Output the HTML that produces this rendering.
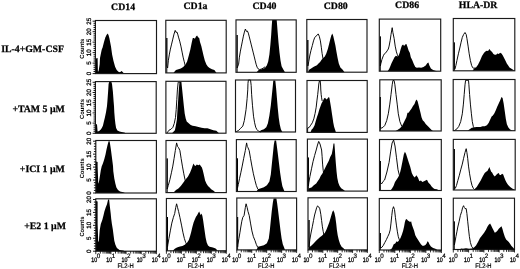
<!DOCTYPE html>
<html><head><meta charset="utf-8"><title>Flow cytometry histograms</title><style>
html,body{margin:0;padding:0;background:#fff;}
svg{display:block;filter:blur(0.3px);}
text{fill:#000;text-rendering:geometricPrecision;}
.hd,.rl{font-family:"Liberation Serif","Times New Roman",serif;font-weight:bold;font-size:9.8px;stroke:#000;stroke-width:0.25px;}
.yl{font-family:"Liberation Sans",Arial,sans-serif;font-size:6.3px;text-anchor:middle;stroke:#000;stroke-width:0.25px;}
.cnt{font-family:"Liberation Sans",Arial,sans-serif;font-size:6px;font-weight:bold;text-anchor:middle;}
.xl{font-family:"Liberation Sans",Arial,sans-serif;font-size:6.6px;stroke:#000;stroke-width:0.3px;}
.xs{font-family:"Liberation Sans",Arial,sans-serif;font-size:6.3px;stroke:#000;stroke-width:0.2px;}
.fl{font-family:"Liberation Sans",Arial,sans-serif;font-size:6.7px;stroke:#000;stroke-width:0.2px;}
</style></head>
<body><svg width="520" height="269" viewBox="0 0 520 269">
<rect width="520" height="269" fill="#fff"/>
<polygon fill="#000" points="96,73.6 96,73.6 96,58.5 97.6,58 97.9,71.6 98.3,71.6 98.8,69.9 99.7,64 100,58 100.8,53.9 101.7,49.7 102.6,47.4 104,42 105.3,37.4 106.5,35 107.7,33.6 108.5,35 109.4,38.2 111,46.4 112.1,54.5 113.5,61.1 115.1,66.8 116.7,70.1 118.4,71.7 120,72.2 121.6,70.9 122.9,72.2 124,73.6 124,73.6"/>
<polygon fill="#000" points="173.5,72.9 173.5,72.9 175,71 176,70 178.4,69.2 180.8,68.4 183.2,67.1 185.6,64.4 187.2,61.2 188.8,55.6 190.4,49.2 191.7,42.8 192.8,38 193.9,38 194.9,38.8 196,36.4 197.1,35.6 198.1,37.2 199.2,38 200,42 201.3,46 202.4,50.8 203.5,55.6 204.8,60.4 206.4,64.4 208,66.8 209.6,68 212,69.2 214.4,70 216.5,72.9 216.5,72.9"/>
<polyline fill="none" stroke="#000" stroke-width="0.95" stroke-linejoin="round" points="166.8,72.9 166.8,38 166.8,66 167.6,68 168.4,60.2 169.4,54.1 170.4,49.1 171.6,44.1 172.8,39.1 174,34.1 175.2,30.4 176,32.4 176.9,32 177.7,34.1 178.5,37.1 179.7,41.1 180.9,46.1 182.1,52.1 183.1,57.1 184.1,61.2 185.1,65.2 186.1,69.2 187.5,72"/>
<polygon fill="#000" points="256.5,72.3 256.5,72.3 259,69.8 261.9,69.2 264.9,67.9 266.9,65.3 268.2,61.4 269.4,54.5 270.4,44.6 271.2,34.8 271.8,24.9 272.2,20 276.7,20 277.1,24.9 277.7,32.8 278.5,42.6 279.5,52.5 280.5,60.4 281.6,66.3 283.2,69.2 285,72.3 285,72.3"/>
<polyline fill="none" stroke="#000" stroke-width="0.95" stroke-linejoin="round" points="237.1,72.3 237.1,35 237.1,68 238.6,64.2 239.4,57.2 240.4,51.1 241.4,46.1 242.4,41.1 243.4,36.1 244.4,32.1 245.4,29 246.4,31.4 247.4,31 248.3,33.1 249.1,36.1 250.1,40.1 251.1,44.1 252.1,48.1 253.1,52.1 254.1,56.1 255.1,60.2 256.1,64.2 257.1,67.2 258.1,68.8 259.5,69.6 261.1,69.2 263.1,68.2 265.1,66.8"/>
<polygon fill="#000" points="308,72.2 308,72.2 309.1,69.8 311.5,68.3 313.8,66.7 315.4,65.9 316.9,65.2 318.5,63.6 320.1,62 321.6,59.7 323.2,58.1 324.8,56.6 326.3,53.4 327.9,48.8 329.1,44.1 330.2,39.4 331.3,35.5 332.3,33.4 333.3,36.3 334.4,40.9 335.4,45.6 336.5,51.9 337.6,58.1 338.8,63.6 340.4,67.5 342.7,69.8 344.5,72.2 344.5,72.2"/>
<polyline fill="none" stroke="#000" stroke-width="0.95" stroke-linejoin="round" points="307.8,72.2 307.8,40 307.8,66 308.3,64 308.8,61.3 309.9,55 311,50.3 312.3,45.6 313.5,40.9 314.6,37.8 315.7,36.3 316.9,35.5 318.2,33.9 319.3,36.3 320.4,40.9 321.3,47.2 322.1,53.4 322.9,58.1 324,61.3 325,63"/>
<polygon fill="#000" points="387.5,71.2 387.5,71.2 389,69.2 390,66.9 391.5,63.2 393,60.3 394.5,57.3 395.9,55.8 397.4,56.5 398.6,55.8 399.7,52.8 400.7,49.1 401.9,45.4 403.1,44.6 404.1,46.1 405.2,44.6 406.4,43.9 407.5,46.9 408.6,50.6 409.8,52.8 410.8,57.3 412.3,60.3 413.8,64 415.3,66.9 416.8,67.7 419,67.4 421.2,67.7 423.5,66.9 425.7,65.5 427.2,63.2 428.4,62.5 429.4,65.5 430.9,68.4 433.1,69.9 436.1,71 438,71.2 438,71.2"/>
<polyline fill="none" stroke="#000" stroke-width="0.95" stroke-linejoin="round" points="380.3,71.2 380.3,36.5 380.3,66 380.9,63.5 381.9,59.6 383.3,55.8 384.4,53.8 385.8,52.8 387.1,50.9 388.3,49 389.1,46.1 390.2,40.3 391,34.5 392.2,27.7 392.9,32.5 394.1,38.3 395.2,46.1 396.4,51.9 397.4,54.8 398.3,56.7 399.5,58"/>
<polygon fill="#000" points="472.5,70.8 472.5,70.8 474,68.8 476,67.5 478,64.8 480,60.8 482,56.1 484.1,52.7 485.4,51.4 486.7,50.7 488.1,51 489.4,49.1 490.7,50.7 492.1,52.1 493.4,54.1 494.8,54.7 496.1,54.7 497.4,53.4 498.8,54.1 500.1,52.7 501.5,53.4 502.8,55.4 504.1,58.1 505.5,60.8 506.8,63.4 508.2,65.5 509.5,67.5 511.5,68.8 513.5,70.1 514.5,70.8 514.5,70.8"/>
<polyline fill="none" stroke="#000" stroke-width="0.95" stroke-linejoin="round" points="454.3,70.8 454.3,42.5 454.3,69 454.9,69.3 455.9,65.4 456.9,60.6 458.4,53.8 459.8,48 461.1,42.2 462.3,37.4 463.6,34.5 465,32.5 466.2,34.5 466.9,38.3 468.1,46.1 469.2,53.8 470.4,60.6 471.6,65.4 472.7,67.7 473.9,68.3 475.5,67.8"/>
<polygon fill="#000" points="96,133.3 96,133.3 96,124 97,124.5 97.6,131.5 99.2,131 100.8,129.4 101.8,127.9 102.9,125.8 103.9,121.6 104.9,117.5 106,112.3 107,106 107.4,101.3 108.1,91.7 108.6,84 109.3,81.6 111.3,81.6 112,84 112.9,91.7 113.6,101.3 114,106 114.3,112.3 114.8,118.5 115.4,123.7 116.1,127.9 117.4,130.5 119.5,131.5 121.6,132 124.2,132.6 126,133.3 126,133.3"/>
<polygon fill="#000" points="172,133.2 172,133.2 174.9,130.2 175.9,125.3 176.9,119.4 177.5,109.6 178.2,99.7 178.8,89.9 179.4,83 179.8,81.8 181.4,81.8 181.8,85.9 182.8,95.8 183.8,105.6 184.7,113.5 185.7,118.4 186.7,121.4 188.7,123.3 190.7,124.9 192.6,125.7 195.6,126.3 198.5,126.9 201.5,127.7 204.5,128.3 207.4,128.3 210.4,129.3 213.3,130.2 216.3,130.8 219,133.2 219,133.2"/>
<polyline fill="none" stroke="#000" stroke-width="0.95" stroke-linejoin="round" points="166.8,133.2 169,130.2 170.9,129.3 172.9,127.3 174.3,123.3 175.5,117.4 176.2,109.6 176.8,99.7 177.4,89.9 178.2,82.2 179,81.8 180,82.5"/>
<polygon fill="#000" points="259,132 259,132 261,130.2 263.9,129.3 266.3,127.3 267.9,123.3 269.4,115.5 270.8,105.6 271.8,95.8 272.8,85.9 273.3,80.5 275.3,80.5 276.1,87.9 276.9,97.7 277.7,107.6 278.7,117.4 279.7,124.3 280.9,129.3 282.3,132 282.3,132"/>
<polyline fill="none" stroke="#000" stroke-width="0.95" stroke-linejoin="round" points="236.5,132 236.4,131.56 238.54,130.46 240.68,128.27 242.82,126.08 244.32,120.59 246.04,109.62 247.11,98.65 247.75,89.87 247.97,83.29 248.39,80 250.54,80 251.18,85.49 251.61,94.26 252.46,105.23 253.53,116.2 254.61,122.78 255.68,127.17 256.75,129.37 258.46,131.12 261.03,132"/>
<polygon fill="#000" points="310.5,132.4 310.5,132.4 311.5,129.8 313,128.3 314.6,125.2 315.7,121.3 316.9,117.3 318.2,113.4 319.3,109.5 320.4,106.4 321.6,103.3 322.9,100.9 324,98.6 325.1,97.8 326.3,99.4 327.6,98.6 328.7,97 329.4,97.8 330.2,102.5 331,107.2 331.8,112.7 332.6,118.1 333.3,122.8 334.1,126.7 335.1,129.8 336,132.4 336,132.4"/>
<polyline fill="none" stroke="#000" stroke-width="0.95" stroke-linejoin="round" points="307.6,132.4 307.6,128 309.1,127.5 310.7,125.2 312.3,122.8 313.8,118.9 315.1,113.4 316.2,107.2 316.9,100.9 317.7,94.7 318.2,90 318.8,84 319.4,81 320.2,81 320.6,85 320.8,90 321.2,94.7 321.6,97.8 322.2,101"/>
<polygon fill="#000" points="395.5,131 395.5,131 397.4,129.9 399.7,128.4 401.9,126.2 403.4,123.2 404.9,120.3 406.4,117.3 407.5,112.8 408.6,112.8 410.1,110.6 411.6,108.4 413,106.1 414.5,103.9 415.6,100.9 416.5,99.4 417.5,100.9 418.3,103.9 419.4,108.4 420.5,112.8 421.5,117.3 422.7,120.3 424.2,121.7 425.7,124 427.2,125.5 428.7,126.9 430.1,128.4 431.6,129.9 433,131 433,131"/>
<polyline fill="none" stroke="#000" stroke-width="0.95" stroke-linejoin="round" points="380.3,131 380.3,97 380.3,128 380.9,128.3 382.9,127.4 384.8,125.4 386.7,120.6 388.3,113.8 389.8,104.1 391,94.5 392.2,84.8 392.9,80.5 394.1,80.5 394.9,84.8 396,94.5 397.2,104.1 398.3,113.8 399.9,121.6 401.8,126.4 404.1,128.3 406,129.5"/>
<polygon fill="#000" points="467.52,130.7 467.52,130.7 469.67,129.17 471.82,127.87 473.97,127.43 476.12,127 478.28,127 480.43,127 482.58,126.34 484.73,126.34 486.88,125.25 488.6,123.07 490.11,119.81 491.61,116.54 492.9,115.45 494.41,113.27 495.91,110 497.2,106.73 498.71,103.47 500.22,100.2 501.51,96.93 502.58,98.02 503.66,103.47 504.73,111.09 505.81,118.72 506.88,124.16 508.39,127.43 510.11,129.61 512.69,130.7 512.69,130.7"/>
<polyline fill="none" stroke="#000" stroke-width="0.95" stroke-linejoin="round" points="454.3,130.7 456.9,128.9 458.8,126.4 460.7,121.6 462.3,113.8 463.4,104.1 464.2,94.5 465,84.8 465.6,80.3 468.5,80.3 468.9,84.8 469.6,94.5 470.4,104.1 471.4,113.8 472.3,121.6 473.3,126.4 474.7,128.9 476,130"/>
<polygon fill="#000" points="96,193 96,193 96,161.5 97.6,161.9 97.6,166 98.2,181.7 98.5,183.6 98.7,183.2 99.2,180.6 100,175.4 100.8,170.2 101.8,166 102.3,165 103.4,161.9 104.4,158.8 105.5,154.6 106.5,149.4 107.5,145.3 108.6,141.2 109.6,141.2 110.1,144.2 110.9,149.4 111.7,155.7 112.5,161.9 113,166.1 113.3,171.3 114.3,178.5 115.4,183.8 116.4,187.4 118,190 120,191.6 123.2,192.3 125,193 125,193"/>
<polygon fill="#000" points="173.5,192.6 173.5,192.6 175,191 176,190 178.4,188.4 180.8,186 183.2,182.8 185.6,179.6 188,176.4 190.1,172.4 191.7,168.4 192.8,165.2 193.6,163.6 194.4,165.2 195.5,166 196.8,164.4 198.4,165.2 199.7,164.4 200.8,166 201.9,167.6 202.9,170.8 204,175.6 205.1,180.4 206.4,183.6 208,186 209.6,187.6 211.2,189.2 213.6,190.8 215.5,192.6 215.5,192.6"/>
<polyline fill="none" stroke="#000" stroke-width="0.95" stroke-linejoin="round" points="167.2,192.6 167.2,158.5 167.2,189 168.3,185.4 169.9,179.6 171.4,172.8 172.8,166.1 174.1,158.3 175.3,150.6 176.6,142.9 177.6,146.5 178.6,147.7 179.9,150.6 181.1,158.3 182.4,166.1 183.8,173.8 185,179.6 186.3,184.5 187.5,187"/>
<polygon fill="#000" points="256.5,191.5 256.5,191.5 258,189.2 261,188.3 263.9,187.3 266.9,185.3 269.4,181.4 270.8,174.5 271.8,164.6 272.8,154.8 273.8,144.9 274.6,140.5 276.1,140.5 276.7,144.9 277.7,152.8 278.9,162.6 280.1,172.5 281.3,180.4 282.4,186.3 283.6,189.2 284.5,191.5 284.5,191.5"/>
<polyline fill="none" stroke="#000" stroke-width="0.95" stroke-linejoin="round" points="237.5,191.5 237.5,158.5 237.5,188 238.3,184.5 239.5,178.7 240.8,172.8 242.2,166.1 243.7,158.3 245.3,150.6 246.6,142.9 247.3,146.5 248,147.7 249.2,150.6 250.5,158.3 251.9,166.1 253.4,173.8 255,180.6 256.3,185.4 257.7,188.9 259.5,190.3"/>
<polygon fill="#000" points="308.2,191.1 308.2,191 309.1,188.3 311.5,187.5 313.8,185.2 316.2,183.6 317.7,181.3 319.3,178.9 320.8,175.8 322.4,173.4 324,170.3 325.5,167.2 327.1,164.1 328.7,160.9 330.2,157 331.8,153.9 332.9,148 333.5,143.5 334.4,143.5 334.9,150 335.3,156.3 335.9,164.1 336.6,171.9 337.3,178.1 338.3,182.8 339.6,185.9 341.2,188.3 343.5,189.8 345,191 345,191.1"/>
<polyline fill="none" stroke="#000" stroke-width="0.95" stroke-linejoin="round" points="308.4,191 308.4,157.6 308.4,186 308.8,182.8 309.9,176.6 311.5,168.8 313,161.7 314.6,155.5 316.2,150 317.5,145 318.7,141.4 320,144 321.6,150 322.1,156.3 322.6,164.1 323.2,170.3 324,175"/>
<polygon fill="#000" points="390.5,190.5 390.5,190.5 392,188.5 393.5,186 395,182 396.5,179.7 398,177.4 399.6,174.4 401.1,168.3 402.6,160.7 403.8,154.6 404.9,151.8 406,153.8 407.2,157.6 408.7,162.2 410.2,166.8 411.8,172.9 413.3,175.9 414.8,177.4 416.3,175.2 417.9,177.4 419.4,181.3 420.9,180.5 422.4,182 424,181.3 425.5,180.5 427,179.7 428.5,182.8 430.1,184.3 431.6,186.6 433.1,188.1 434.6,188.9 436.9,189.3 439,190.5 439,190.5"/>
<polyline fill="none" stroke="#000" stroke-width="0.95" stroke-linejoin="round" points="380.4,190.5 380.4,161 380.4,182.5 381.5,184 383,181.5 384.6,180 386.9,172 389.1,162.3 390.6,151.9 392.1,143 393.6,140 395,146 396.5,157.8 398,169.7 399.5,175.7 401,179 402.5,181"/>
<polygon fill="#000" points="473.5,190 473.5,190 474.7,189.1 476.7,187.1 478.7,183.8 480.7,180.4 482.7,176.4 484.7,173.1 486.1,171.7 487.4,171.1 488.7,168.4 489.4,167 490.1,169.1 491.2,171.7 492.1,172.4 493.4,175.1 494.8,176.4 496.1,175.1 497.4,173.7 498.8,173.1 499.7,175.1 500.8,175.1 502.1,173.7 503.2,174.4 504.1,177.1 505.5,180.4 506.8,183.1 508.2,185.1 510.2,187.1 512.2,188.5 514.2,189.5 515,190 515,190"/>
<polyline fill="none" stroke="#000" stroke-width="0.95" stroke-linejoin="round" points="454.3,190 454.3,149 454.3,188.5 455.3,188.3 456.5,185.4 457.8,180.6 459.2,175.8 460.7,169.9 462.3,164.1 463.6,158.3 465,152.5 466.2,148.7 466.9,152.5 467.7,158.3 468.5,166.1 469.6,173.8 470.8,180.6 472,185.4 473.3,188.3 474.5,189.5"/>
<polygon fill="#000" points="96,251.2 96,251.2 96,201 97.6,201.5 97.6,224 98.2,240.7 98.6,242 98.9,241.2 99.2,236.5 99.7,230.3 100.8,224 102.3,219.9 103.4,215.7 104.4,211.5 105.7,207.4 107,204.3 108.1,199.4 109.1,199.4 109.6,204.3 110.1,208.4 110.7,213.6 111.2,218.8 111.9,224 112.8,229.2 113.6,235.5 114.3,240.7 115.4,244.8 116.9,248 119.5,250 123.2,250.6 125,251.2 125,251.2"/>
<polygon fill="#000" points="172.7,250.8 172.7,250.8 174.5,249 176,248 177.6,247.2 180,246.4 182.4,246 184.8,244.8 187.2,242.4 188.8,240 190.1,236 191.2,232 192.3,227.2 193.6,222.4 194.9,219.2 196,216.8 197.1,215.2 198.4,212.8 199.2,211.5 200,213.6 200.8,215.2 201.6,213.6 202.4,216 203.2,220.8 204,226.4 204.8,232 205.6,237.6 206.7,242.4 208,245.6 209.6,246.7 212,247.2 214.4,248 216,248.8 217.5,250.8 217.5,250.8"/>
<polyline fill="none" stroke="#000" stroke-width="0.95" stroke-linejoin="round" points="167.5,250.8 167.5,217 167.5,247 167.9,244.4 168.9,238.6 170.3,230.9 171.8,223.1 173.4,217.3 174.7,213.5 175.7,207.7 176.6,203.8 177.6,207.7 178.6,211.5 179.9,217.3 181.5,225.1 183,232.8 184.4,238.6 185.7,242.5 187,245"/>
<polygon fill="#000" points="256.5,249.9 256.5,249.9 258,246.7 261,245.9 263.9,245.3 266.9,243.3 268.8,238.4 269.8,230.5 270.8,220.6 271.8,210.8 272.8,202.9 273.6,198.6 276.4,198.6 277.1,202.9 278.1,210.8 279.3,220.6 280.5,230.5 281.6,238.4 282.8,244.3 284,247.2 285,249.9 285,249.9"/>
<polyline fill="none" stroke="#000" stroke-width="0.95" stroke-linejoin="round" points="237.6,249.9 237.6,217 237.6,247 237.9,244.4 238.9,238.6 239.9,232.8 240.8,227 241.8,221.2 242.8,217.3 244.1,215.4 245.3,207.7 246.1,203.8 247.2,207.7 248,211.5 249.2,215.4 250.5,223.1 251.9,230.9 253.4,236.7 255,240.6 256.3,244.4 257.7,247.3 259.2,248.7 261,249"/>
<polygon fill="#000" points="308.6,249.9 308.6,249.9 309.1,247.1 310.7,246.3 312.3,244.7 313.8,243.2 315.4,241.6 316.9,240 318.5,238.5 320.1,236.9 321.6,236.1 323.2,234.6 324.8,233 326.3,229.9 327.9,226 329.4,222.1 331,216.6 332.3,211.9 333.3,210.3 334.4,212.7 335.4,217.4 336.2,223.6 336.9,229.9 337.7,235.3 338.8,240 340.1,243.9 341.6,246.8 343.5,248.3 345,249.9 345,249.9"/>
<polyline fill="none" stroke="#000" stroke-width="0.95" stroke-linejoin="round" points="309,249.9 309,220 309,247 309.9,239.3 311,233 312.3,226.8 313.5,220.5 314.6,215 315.7,211.1 316.7,207.5 317.6,205.9 318.8,207 319.8,208.8 320.8,214.3 321.6,220.5 322.4,226.8 323.2,231.4 324,235.3 325,237.5"/>
<polygon fill="#000" points="389.5,250 389.5,250 391.1,249.3 392.2,247.8 393.7,244.2 395.2,243.5 396.7,241.2 397.7,242 398.9,240.5 400.4,238.3 401.9,234.5 403.1,230.8 404.1,226.4 404.9,221.9 405.6,219.7 406.7,218.9 407.8,220.4 409,221.2 410.1,221.9 411.1,221.2 412,224.9 413,227.8 414.1,230.8 415.3,235.3 416.5,237.5 418,239.7 419.4,242 420.9,244.2 422.4,245.7 423.9,245.7 425.4,244.9 426.6,243.5 427.5,241.2 428.4,242 429.4,244.2 430.9,246.4 433.1,247.9 435.4,248.7 437.5,250 437.5,250"/>
<polyline fill="none" stroke="#000" stroke-width="0.95" stroke-linejoin="round" points="380.3,250 380.3,233 380.3,248 381.9,247.3 383.3,245.4 384.8,242.5 386.4,239.6 387.7,236.7 389.1,233.8 390.2,229.9 391,223.1 391.8,215.4 392.5,209.6 393.5,206.7 394.5,209.6 395.4,217.3 396.4,225.1 397.4,231.8 398.3,236.7 399.3,239.6 400.5,241.5"/>
<polygon fill="#000" points="460,249.5 460,249.5 461,248.4 463,248.8 466,248.3 469,248.8 472,248.6 474,247.5 476,245.5 478,242.1 480,238.1 482,235.4 484.1,232.7 486.1,229.4 487.4,226.7 488.7,224.7 490.1,223.6 491.2,225.4 492.1,227.4 493.4,230.1 494.8,232.7 496.1,232.1 497.4,230.7 498.8,228.7 500.1,227.4 501.5,226.3 502.4,228.7 503.5,232.7 504.8,236.8 506.1,239.4 507.5,240.8 508.8,242.1 510.2,244.1 511.5,246.1 513.5,248.1 514.5,249.5 514.5,249.5"/>
<polyline fill="none" stroke="#000" stroke-width="0.95" stroke-linejoin="round" points="454.3,249.5 454.3,221.5 454.3,245 454.9,242.5 455.9,236.7 456.9,231.8 457.8,227 459.2,221.2 460.4,215.4 461.7,211.5 462.6,207.5 463.6,205.7 464.3,207.5 465,208.6 466.2,208.6 466.9,213.5 467.7,221.2 468.5,228.9 469.4,236.7 470.4,242.5 471.6,246.4 472.7,247.9 474,248.8"/>
<rect x="95.4" y="20.5" width="61.1" height="53.1" fill="none" stroke="#1a1a1a" stroke-width="1.15"/>
<rect x="165.8" y="20.3" width="60.4" height="52.6" fill="none" stroke="#1a1a1a" stroke-width="1.15"/>
<rect x="236" y="19.9" width="60.2" height="52.4" fill="none" stroke="#1a1a1a" stroke-width="1.15"/>
<rect x="306.8" y="19.5" width="60.2" height="52.7" fill="none" stroke="#1a1a1a" stroke-width="1.15"/>
<rect x="379.3" y="19.1" width="61.4" height="52.1" fill="none" stroke="#1a1a1a" stroke-width="1.15"/>
<rect x="453.3" y="18.5" width="61.5" height="52.3" fill="none" stroke="#1a1a1a" stroke-width="1.15"/>
<rect x="95.4" y="81.6" width="60.8" height="51.7" fill="none" stroke="#1a1a1a" stroke-width="1.15"/>
<rect x="165.9" y="81.3" width="60.1" height="51.9" fill="none" stroke="#1a1a1a" stroke-width="1.15"/>
<rect x="235.5" y="80" width="60" height="52" fill="none" stroke="#1a1a1a" stroke-width="1.15"/>
<rect x="307" y="80.5" width="60.2" height="51.9" fill="none" stroke="#1a1a1a" stroke-width="1.15"/>
<rect x="379.8" y="79.8" width="61.4" height="51.2" fill="none" stroke="#1a1a1a" stroke-width="1.15"/>
<rect x="453.2" y="79.5" width="61.8" height="51.2" fill="none" stroke="#1a1a1a" stroke-width="1.15"/>
<rect x="95.8" y="140.5" width="60.6" height="52.5" fill="none" stroke="#1a1a1a" stroke-width="1.15"/>
<rect x="166" y="140.5" width="60.3" height="52.1" fill="none" stroke="#1a1a1a" stroke-width="1.15"/>
<rect x="236.4" y="139.6" width="59.8" height="51.9" fill="none" stroke="#1a1a1a" stroke-width="1.15"/>
<rect x="307.4" y="139.1" width="60" height="52" fill="none" stroke="#1a1a1a" stroke-width="1.15"/>
<rect x="379.5" y="139.5" width="61.8" height="51" fill="none" stroke="#1a1a1a" stroke-width="1.15"/>
<rect x="453.3" y="139.4" width="61.9" height="50.6" fill="none" stroke="#1a1a1a" stroke-width="1.15"/>
<rect x="95.8" y="198.8" width="60.6" height="52.4" fill="none" stroke="#1a1a1a" stroke-width="1.15"/>
<rect x="166.4" y="198.5" width="59.9" height="52.3" fill="none" stroke="#1a1a1a" stroke-width="1.15"/>
<rect x="236.8" y="198" width="59.8" height="51.9" fill="none" stroke="#1a1a1a" stroke-width="1.15"/>
<rect x="308" y="197.8" width="59.4" height="52.1" fill="none" stroke="#1a1a1a" stroke-width="1.15"/>
<rect x="379.3" y="198.5" width="62.1" height="51.5" fill="none" stroke="#1a1a1a" stroke-width="1.15"/>
<rect x="453.3" y="198.2" width="61.2" height="51.3" fill="none" stroke="#1a1a1a" stroke-width="1.15"/>
<path d="M92.6 73.6H95.4M93.5 71.5H95.4M93.5 69.41H95.4M93.5 67.31H95.4M93.5 65.22H95.4M92.6 63.12H95.4M93.5 61.02H95.4M93.5 58.93H95.4M93.5 56.83H95.4M93.5 54.74H95.4M92.6 52.64H95.4M93.5 50.54H95.4M93.5 48.45H95.4M93.5 46.35H95.4M93.5 44.26H95.4M92.6 42.16H95.4M93.5 40.06H95.4M93.5 37.97H95.4M93.5 35.87H95.4M93.5 33.78H95.4M92.6 31.68H95.4M93.5 29.58H95.4M93.5 27.49H95.4M93.5 25.39H95.4M93.5 23.3H95.4M92.6 21.2H95.4" stroke="#000" stroke-width="0.9" fill="none"/>
<text class="yl" transform="translate(90.5 73.6) rotate(-90)">0</text>
<text class="yl" transform="translate(90.5 63.12) rotate(-90)">5</text>
<text class="yl" transform="translate(90.5 52.64) rotate(-90)">10</text>
<text class="yl" transform="translate(90.5 42.16) rotate(-90)">15</text>
<text class="yl" transform="translate(90.5 31.68) rotate(-90)">20</text>
<text class="yl" transform="translate(90.5 21.2) rotate(-90)">25</text>
<text class="cnt" transform="translate(84.0 48.65) rotate(-90)" textLength="20" lengthAdjust="spacingAndGlyphs">Counts</text>
<path d="M92.6 133.3H95.4M93.5 131.26H95.4M93.5 129.22H95.4M93.5 127.18H95.4M93.5 125.14H95.4M92.6 123.1H95.4M93.5 121.06H95.4M93.5 119.02H95.4M93.5 116.98H95.4M93.5 114.94H95.4M92.6 112.9H95.4M93.5 110.86H95.4M93.5 108.82H95.4M93.5 106.78H95.4M93.5 104.74H95.4M92.6 102.7H95.4M93.5 100.66H95.4M93.5 98.62H95.4M93.5 96.58H95.4M93.5 94.54H95.4M92.6 92.5H95.4M93.5 90.46H95.4M93.5 88.42H95.4M93.5 86.38H95.4M93.5 84.34H95.4M92.6 82.3H95.4" stroke="#000" stroke-width="0.9" fill="none"/>
<text class="yl" transform="translate(90.5 133.3) rotate(-90)">0</text>
<text class="yl" transform="translate(90.5 123.1) rotate(-90)">5</text>
<text class="yl" transform="translate(90.5 112.9) rotate(-90)">10</text>
<text class="yl" transform="translate(90.5 102.7) rotate(-90)">15</text>
<text class="yl" transform="translate(90.5 92.5) rotate(-90)">20</text>
<text class="yl" transform="translate(90.5 82.3) rotate(-90)">25</text>
<text class="cnt" transform="translate(84.0 109.05) rotate(-90)" textLength="20" lengthAdjust="spacingAndGlyphs">Counts</text>
<path d="M93 193H95.8M93.9 190.41H95.8M93.9 187.82H95.8M93.9 185.23H95.8M93.9 182.64H95.8M93 180.05H95.8M93.9 177.46H95.8M93.9 174.87H95.8M93.9 172.28H95.8M93.9 169.69H95.8M93 167.1H95.8M93.9 164.51H95.8M93.9 161.92H95.8M93.9 159.33H95.8M93.9 156.74H95.8M93 154.15H95.8M93.9 151.56H95.8M93.9 148.97H95.8M93.9 146.38H95.8M93.9 143.79H95.8M93 141.2H95.8" stroke="#000" stroke-width="0.9" fill="none"/>
<text class="yl" transform="translate(90.5 193) rotate(-90)">0</text>
<text class="yl" transform="translate(90.5 180.05) rotate(-90)">5</text>
<text class="yl" transform="translate(90.5 167.1) rotate(-90)">10</text>
<text class="yl" transform="translate(90.5 154.15) rotate(-90)">15</text>
<text class="yl" transform="translate(90.5 141.2) rotate(-90)">20</text>
<text class="cnt" transform="translate(84.0 168.35) rotate(-90)" textLength="20" lengthAdjust="spacingAndGlyphs">Counts</text>
<path d="M93 251.2H95.8M93.9 248.61H95.8M93.9 246.03H95.8M93.9 243.44H95.8M93.9 240.86H95.8M93 238.27H95.8M93.9 235.69H95.8M93.9 233.1H95.8M93.9 230.52H95.8M93.9 227.94H95.8M93 225.35H95.8M93.9 222.76H95.8M93.9 220.18H95.8M93.9 217.59H95.8M93.9 215.01H95.8M93 212.43H95.8M93.9 209.84H95.8M93.9 207.25H95.8M93.9 204.67H95.8M93.9 202.09H95.8M93 199.5H95.8" stroke="#000" stroke-width="0.9" fill="none"/>
<text class="yl" transform="translate(90.5 251.2) rotate(-90)">0</text>
<text class="yl" transform="translate(90.5 238.27) rotate(-90)">5</text>
<text class="yl" transform="translate(90.5 225.35) rotate(-90)">10</text>
<text class="yl" transform="translate(90.5 212.43) rotate(-90)">15</text>
<text class="yl" transform="translate(90.5 199.5) rotate(-90)">20</text>
<text class="cnt" transform="translate(84.0 226.6) rotate(-90)" textLength="20" lengthAdjust="spacingAndGlyphs">Counts</text>
<path d="M95.8 251.2V254.2M100.36 251.2V253.6M103.03 251.2V253.6M104.92 251.2V253.6M106.39 251.2V253.6M107.59 251.2V253.6M108.6 251.2V253.6M109.48 251.2V253.6M110.26 251.2V253.6M110.95 251.2V254.2M115.51 251.2V253.6M118.18 251.2V253.6M120.07 251.2V253.6M121.54 251.2V253.6M122.74 251.2V253.6M123.75 251.2V253.6M124.63 251.2V253.6M125.41 251.2V253.6M126.1 251.2V254.2M130.66 251.2V253.6M133.33 251.2V253.6M135.22 251.2V253.6M136.69 251.2V253.6M137.89 251.2V253.6M138.9 251.2V253.6M139.78 251.2V253.6M140.56 251.2V253.6M141.25 251.2V254.2M145.81 251.2V253.6M148.48 251.2V253.6M150.37 251.2V253.6M151.84 251.2V253.6M153.04 251.2V253.6M154.05 251.2V253.6M154.93 251.2V253.6M155.71 251.2V253.6M156.4 251.2V254.2" stroke="#000" stroke-width="0.8" fill="none"/>
<text class="xl" x="91.2" y="262.3" textLength="5.9" lengthAdjust="spacingAndGlyphs">10</text>
<text class="xs" x="96.7" y="257.6">0</text>
<text class="xl" x="106.35" y="262.3" textLength="5.9" lengthAdjust="spacingAndGlyphs">10</text>
<text class="xs" x="111.85" y="257.6">1</text>
<text class="xl" x="121.5" y="262.3" textLength="5.9" lengthAdjust="spacingAndGlyphs">10</text>
<text class="xs" x="127" y="257.6">2</text>
<text class="xl" x="136.65" y="262.3" textLength="5.9" lengthAdjust="spacingAndGlyphs">10</text>
<text class="xs" x="142.15" y="257.6">3</text>
<text class="xl" x="151.8" y="262.3" textLength="5.9" lengthAdjust="spacingAndGlyphs">10</text>
<text class="xs" x="157.3" y="257.6">4</text>
<text class="fl" x="117.5" y="267.9" textLength="16.3" lengthAdjust="spacingAndGlyphs">FL2-H</text>
<path d="M166.4 250.8V253.8M170.91 250.8V253.2M173.54 250.8V253.2M175.42 250.8V253.2M176.87 250.8V253.2M178.05 250.8V253.2M179.06 250.8V253.2M179.92 250.8V253.2M180.69 250.8V253.2M181.38 250.8V253.8M185.88 250.8V253.2M188.52 250.8V253.2M190.39 250.8V253.2M191.84 250.8V253.2M193.03 250.8V253.2M194.03 250.8V253.2M194.9 250.8V253.2M195.66 250.8V253.2M196.35 250.8V253.8M200.86 250.8V253.2M203.49 250.8V253.2M205.37 250.8V253.2M206.82 250.8V253.2M208 250.8V253.2M209.01 250.8V253.2M209.87 250.8V253.2M210.64 250.8V253.2M211.33 250.8V253.8M215.83 250.8V253.2M218.47 250.8V253.2M220.34 250.8V253.2M221.79 250.8V253.2M222.98 250.8V253.2M223.98 250.8V253.2M224.85 250.8V253.2M225.61 250.8V253.2M226.3 250.8V253.8" stroke="#000" stroke-width="0.8" fill="none"/>
<text class="xl" x="161.8" y="262.3" textLength="5.9" lengthAdjust="spacingAndGlyphs">10</text>
<text class="xs" x="167.3" y="257.6">0</text>
<text class="xl" x="176.78" y="262.3" textLength="5.9" lengthAdjust="spacingAndGlyphs">10</text>
<text class="xs" x="182.28" y="257.6">1</text>
<text class="xl" x="191.75" y="262.3" textLength="5.9" lengthAdjust="spacingAndGlyphs">10</text>
<text class="xs" x="197.25" y="257.6">2</text>
<text class="xl" x="206.73" y="262.3" textLength="5.9" lengthAdjust="spacingAndGlyphs">10</text>
<text class="xs" x="212.23" y="257.6">3</text>
<text class="xl" x="221.7" y="262.3" textLength="5.9" lengthAdjust="spacingAndGlyphs">10</text>
<text class="xs" x="227.2" y="257.6">4</text>
<text class="fl" x="187.75" y="267.9" textLength="16.3" lengthAdjust="spacingAndGlyphs">FL2-H</text>
<path d="M236.8 249.9V252.9M241.3 249.9V252.3M243.93 249.9V252.3M245.8 249.9V252.3M247.25 249.9V252.3M248.43 249.9V252.3M249.43 249.9V252.3M250.3 249.9V252.3M251.07 249.9V252.3M251.75 249.9V252.9M256.25 249.9V252.3M258.88 249.9V252.3M260.75 249.9V252.3M262.2 249.9V252.3M263.38 249.9V252.3M264.38 249.9V252.3M265.25 249.9V252.3M266.02 249.9V252.3M266.7 249.9V252.9M271.2 249.9V252.3M273.83 249.9V252.3M275.7 249.9V252.3M277.15 249.9V252.3M278.33 249.9V252.3M279.33 249.9V252.3M280.2 249.9V252.3M280.97 249.9V252.3M281.65 249.9V252.9M286.15 249.9V252.3M288.78 249.9V252.3M290.65 249.9V252.3M292.1 249.9V252.3M293.28 249.9V252.3M294.28 249.9V252.3M295.15 249.9V252.3M295.92 249.9V252.3M296.6 249.9V252.9" stroke="#000" stroke-width="0.8" fill="none"/>
<text class="xl" x="232.2" y="262.3" textLength="5.9" lengthAdjust="spacingAndGlyphs">10</text>
<text class="xs" x="237.7" y="257.6">0</text>
<text class="xl" x="247.15" y="262.3" textLength="5.9" lengthAdjust="spacingAndGlyphs">10</text>
<text class="xs" x="252.65" y="257.6">1</text>
<text class="xl" x="262.1" y="262.3" textLength="5.9" lengthAdjust="spacingAndGlyphs">10</text>
<text class="xs" x="267.6" y="257.6">2</text>
<text class="xl" x="277.05" y="262.3" textLength="5.9" lengthAdjust="spacingAndGlyphs">10</text>
<text class="xs" x="282.55" y="257.6">3</text>
<text class="xl" x="292" y="262.3" textLength="5.9" lengthAdjust="spacingAndGlyphs">10</text>
<text class="xs" x="297.5" y="257.6">4</text>
<text class="fl" x="258.1" y="267.9" textLength="16.3" lengthAdjust="spacingAndGlyphs">FL2-H</text>
<path d="M308 249.9V252.9M312.47 249.9V252.3M315.09 249.9V252.3M316.94 249.9V252.3M318.38 249.9V252.3M319.56 249.9V252.3M320.55 249.9V252.3M321.41 249.9V252.3M322.17 249.9V252.3M322.85 249.9V252.9M327.32 249.9V252.3M329.94 249.9V252.3M331.79 249.9V252.3M333.23 249.9V252.3M334.41 249.9V252.3M335.4 249.9V252.3M336.26 249.9V252.3M337.02 249.9V252.3M337.7 249.9V252.9M342.17 249.9V252.3M344.79 249.9V252.3M346.64 249.9V252.3M348.08 249.9V252.3M349.26 249.9V252.3M350.25 249.9V252.3M351.11 249.9V252.3M351.87 249.9V252.3M352.55 249.9V252.9M357.02 249.9V252.3M359.64 249.9V252.3M361.49 249.9V252.3M362.93 249.9V252.3M364.11 249.9V252.3M365.1 249.9V252.3M365.96 249.9V252.3M366.72 249.9V252.3M367.4 249.9V252.9" stroke="#000" stroke-width="0.8" fill="none"/>
<text class="xl" x="303.4" y="262.3" textLength="5.9" lengthAdjust="spacingAndGlyphs">10</text>
<text class="xs" x="308.9" y="257.6">0</text>
<text class="xl" x="318.25" y="262.3" textLength="5.9" lengthAdjust="spacingAndGlyphs">10</text>
<text class="xs" x="323.75" y="257.6">1</text>
<text class="xl" x="333.1" y="262.3" textLength="5.9" lengthAdjust="spacingAndGlyphs">10</text>
<text class="xs" x="338.6" y="257.6">2</text>
<text class="xl" x="347.95" y="262.3" textLength="5.9" lengthAdjust="spacingAndGlyphs">10</text>
<text class="xs" x="353.45" y="257.6">3</text>
<text class="xl" x="362.8" y="262.3" textLength="5.9" lengthAdjust="spacingAndGlyphs">10</text>
<text class="xs" x="368.3" y="257.6">4</text>
<text class="fl" x="329.1" y="267.9" textLength="16.3" lengthAdjust="spacingAndGlyphs">FL2-H</text>
<path d="M379.3 250V253M383.97 250V252.4M386.71 250V252.4M388.65 250V252.4M390.15 250V252.4M391.38 250V252.4M392.42 250V252.4M393.32 250V252.4M394.11 250V252.4M394.82 250V253M399.5 250V252.4M402.23 250V252.4M404.17 250V252.4M405.68 250V252.4M406.91 250V252.4M407.95 250V252.4M408.85 250V252.4M409.64 250V252.4M410.35 250V253M415.02 250V252.4M417.76 250V252.4M419.7 250V252.4M421.2 250V252.4M422.43 250V252.4M423.47 250V252.4M424.37 250V252.4M425.16 250V252.4M425.88 250V253M430.55 250V252.4M433.28 250V252.4M435.22 250V252.4M436.73 250V252.4M437.96 250V252.4M439 250V252.4M439.9 250V252.4M440.69 250V252.4M441.4 250V253" stroke="#000" stroke-width="0.8" fill="none"/>
<text class="xl" x="374.7" y="262.3" textLength="5.9" lengthAdjust="spacingAndGlyphs">10</text>
<text class="xs" x="380.2" y="257.6">0</text>
<text class="xl" x="390.22" y="262.3" textLength="5.9" lengthAdjust="spacingAndGlyphs">10</text>
<text class="xs" x="395.72" y="257.6">1</text>
<text class="xl" x="405.75" y="262.3" textLength="5.9" lengthAdjust="spacingAndGlyphs">10</text>
<text class="xs" x="411.25" y="257.6">2</text>
<text class="xl" x="421.27" y="262.3" textLength="5.9" lengthAdjust="spacingAndGlyphs">10</text>
<text class="xs" x="426.77" y="257.6">3</text>
<text class="xl" x="436.8" y="262.3" textLength="5.9" lengthAdjust="spacingAndGlyphs">10</text>
<text class="xs" x="442.3" y="257.6">4</text>
<text class="fl" x="401.75" y="267.9" textLength="16.3" lengthAdjust="spacingAndGlyphs">FL2-H</text>
<path d="M453.3 249.5V252.5M457.91 249.5V251.9M460.6 249.5V251.9M462.51 249.5V251.9M463.99 249.5V251.9M465.21 249.5V251.9M466.23 249.5V251.9M467.12 249.5V251.9M467.9 249.5V251.9M468.6 249.5V252.5M473.21 249.5V251.9M475.9 249.5V251.9M477.81 249.5V251.9M479.29 249.5V251.9M480.51 249.5V251.9M481.53 249.5V251.9M482.42 249.5V251.9M483.2 249.5V251.9M483.9 249.5V252.5M488.51 249.5V251.9M491.2 249.5V251.9M493.11 249.5V251.9M494.59 249.5V251.9M495.81 249.5V251.9M496.83 249.5V251.9M497.72 249.5V251.9M498.5 249.5V251.9M499.2 249.5V252.5M503.81 249.5V251.9M506.5 249.5V251.9M508.41 249.5V251.9M509.89 249.5V251.9M511.11 249.5V251.9M512.13 249.5V251.9M513.02 249.5V251.9M513.8 249.5V251.9M514.5 249.5V252.5" stroke="#000" stroke-width="0.8" fill="none"/>
<text class="xl" x="448.7" y="262.3" textLength="5.9" lengthAdjust="spacingAndGlyphs">10</text>
<text class="xs" x="454.2" y="257.6">0</text>
<text class="xl" x="464" y="262.3" textLength="5.9" lengthAdjust="spacingAndGlyphs">10</text>
<text class="xs" x="469.5" y="257.6">1</text>
<text class="xl" x="479.3" y="262.3" textLength="5.9" lengthAdjust="spacingAndGlyphs">10</text>
<text class="xs" x="484.8" y="257.6">2</text>
<text class="xl" x="494.6" y="262.3" textLength="5.9" lengthAdjust="spacingAndGlyphs">10</text>
<text class="xs" x="500.1" y="257.6">3</text>
<text class="xl" x="509.9" y="262.3" textLength="5.9" lengthAdjust="spacingAndGlyphs">10</text>
<text class="xs" x="515.4" y="257.6">4</text>
<text class="fl" x="475.3" y="267.9" textLength="16.3" lengthAdjust="spacingAndGlyphs">FL2-H</text>
<text class="hd" x="111.1" y="9.5">CD14</text>
<text class="hd" x="183.5" y="8.5">CD1a</text>
<text class="hd" x="252.5" y="8.5">CD40</text>
<text class="hd" x="323.8" y="8.5">CD80</text>
<text class="hd" x="395.1" y="8.2">CD86</text>
<text class="hd" x="458.8" y="7.8">HLA-DR</text>
<text class="rl" x="63.9" y="52.1" text-anchor="end">IL-4+GM-CSF</text>
<text class="rl" x="64.8" y="112" text-anchor="end">+TAM 5 µM</text>
<text class="rl" x="64.8" y="171.5" text-anchor="end">+ICI 1 µM</text>
<text class="rl" x="65.9" y="229.2" text-anchor="end">+E2 1 µM</text>
</svg></body></html>
